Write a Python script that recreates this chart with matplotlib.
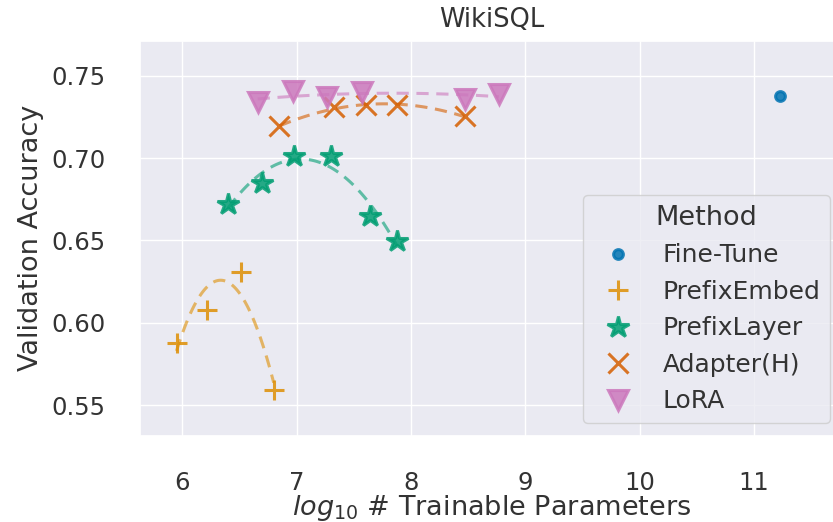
import numpy as np
import matplotlib
matplotlib.use("Agg")
import matplotlib.pyplot as plt
import seaborn as sns

sns.set_theme(style="darkgrid", palette="colorblind")
plt.rcParams['font.family'] = ['DejaVu Sans']

# log10 # trainable params / validation accuracy
ft_x = [11.23]
ft_y = [0.738]

pe_x = [5.95, 6.22, 6.51, 6.80]
pe_y = [0.588, 0.6075, 0.631, 0.559]

pl_x = [6.40, 6.70, 6.975, 7.30, 7.64, 7.88]
pl_y = [0.672, 0.685, 0.701, 0.701, 0.6647, 0.6495]

ad_x = [6.85, 7.33, 7.61, 7.88, 8.47]
ad_y = [0.7192, 0.731, 0.732, 0.7324, 0.7253]

lo_x = [6.66, 6.97, 7.27, 7.57, 8.47, 8.77]
lo_y = [0.734, 0.741, 0.737, 0.740, 0.736, 0.739]

pal = sns.color_palette("colorblind")

fig = plt.figure(figsize=(8.33, 5.22), dpi=100)
ax = fig.add_subplot(1, 1, 1)
# axes runs a little past the right edge, like the cropped original
fig.subplots_adjust(left=0.168, right=1.012, top=0.922, bottom=0.165)

series = [
    ("Fine-Tune", ft_x, ft_y, "o", pal[0], 7, False),
    ("PrefixEmbed", pe_x, pe_y, "+", pal[1], 15, True),
    ("PrefixLayer", pl_x, pl_y, "*", pal[2], 16, True),
    ("Adapter(H)", ad_x, ad_y, "x", pal[3], 14, True),
    ("LoRA", lo_x, lo_y, "v", pal[4], 14, True),
]

for name, xs, ys, mk, col, ms, fit in series:
    if fit:
        c = np.polyfit(xs, ys, 2)
        xx = np.linspace(min(xs), max(xs), 100)
        ax.plot(xx, np.polyval(c, xx), ls=(0, (4, 2.5)), lw=2.2, color=col, alpha=0.6)
    ax.plot(xs, ys, ls="none", marker=mk, ms=ms, color=col, alpha=0.85,
            mew=2.2, label=name)

ax.set_xlim(5.63, 11.78)
ax.set_ylim(0.5313, 0.7713)
ax.set_xticks([6, 7, 8, 9, 10, 11])
ax.set_yticks([0.55, 0.60, 0.65, 0.70, 0.75])
ax.tick_params(labelsize=17.5, pad=19, labelcolor="#333333")
ax.set_xlabel(r"$log_{10}$ # Trainable Parameters", fontsize=19.5, labelpad=-1, color="#333333")
ax.set_ylabel("Validation Accuracy", fontsize=19.5, labelpad=5, color="#333333")
ax.set_title("WikiSQL", fontsize=18.5, pad=10, color="#333333")

leg = ax.legend(title="Method", loc="lower right", fontsize=18, title_fontsize=19.5,
                borderaxespad=0.5, handletextpad=0.8, labelspacing=0.5)
for t in leg.get_texts():
    t.set_color("#333333")
leg.get_title().set_color("#333333")

fig.savefig("out.png", dpi=100)
